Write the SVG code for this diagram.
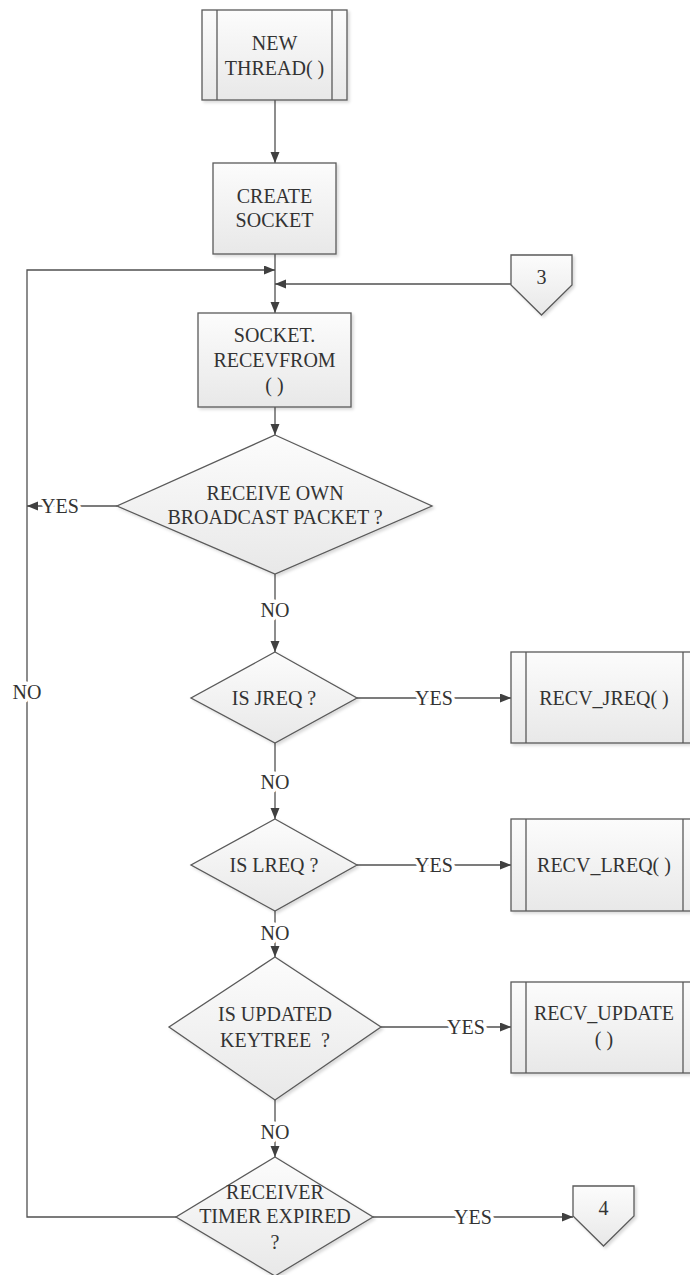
<svg xmlns="http://www.w3.org/2000/svg" width="690" height="1275" viewBox="0 0 690 1275">
  <defs>
    <linearGradient id="fillGrad" x1="0" y1="0" x2="0" y2="1">
      <stop offset="0" stop-color="#fcfcfc"/>
      <stop offset="1" stop-color="#e8e8e8"/>
    </linearGradient>
    <filter id="shade" x="-10%" y="-10%" width="125%" height="125%">
      <feDropShadow dx="2" dy="2" stdDeviation="1.5" flood-color="#000" flood-opacity="0.15"/>
    </filter>
    <marker id="arrow" markerUnits="userSpaceOnUse" markerWidth="12" markerHeight="10" refX="11" refY="4.5" orient="auto">
      <path d="M0,0 L11,4.5 L0,9 z" fill="#404040"/>
    </marker>
  </defs>
  <style>
    .shape { fill: url(#fillGrad); stroke: #5a5a5a; stroke-width: 1.3; filter: url(#shade); }
    .inner { fill: none; stroke: #5a5a5a; stroke-width: 1.3; }
    .conn { fill: none; stroke: #505050; stroke-width: 1.3; }
    text { font-family: 'Liberation Serif', 'DejaVu Serif', serif; font-size: 20px; fill: #333; text-anchor: middle; }
    .lbl { stroke: #fff; stroke-width: 7; paint-order: stroke; stroke-linejoin: round; }
  </style>

  <rect width="690" height="1275" fill="#fff"/>

  <!-- connectors -->
  <g id="connectors" font-family="Liberation Serif, serif">
    <path class="conn" d="M275,100 V163" marker-end="url(#arrow)"/>
    <path class="conn" d="M275,254 V313" marker-end="url(#arrow)"/>
    <path class="conn" d="M275,407 V435" marker-end="url(#arrow)"/>
    <path class="conn" d="M275,574 V652" marker-end="url(#arrow)"/>
    <path class="conn" d="M275,743 V819" marker-end="url(#arrow)"/>
    <path class="conn" d="M275,911 V957" marker-end="url(#arrow)"/>
    <path class="conn" d="M275,1100 V1157" marker-end="url(#arrow)"/>
    <!-- loop back from broadcast check and timer check -->
    <path class="conn" d="M117,506 H27" marker-end="url(#arrow)"/>
    <path class="conn" d="M176,1217 H27 V270 H275" marker-end="url(#arrow)"/>
    <!-- from off-page connector 3 -->
    <path class="conn" d="M511,284 H275" marker-end="url(#arrow)"/>
    <!-- YES branches -->
    <path class="conn" d="M357,698 H511" marker-end="url(#arrow)"/>
    <path class="conn" d="M357,865 H511" marker-end="url(#arrow)"/>
    <path class="conn" d="M381,1027 H511" marker-end="url(#arrow)"/>
    <path class="conn" d="M373,1217 H573" marker-end="url(#arrow)"/>
    <!-- labels -->
    <text class="lbl" x="60" y="513">YES</text>
    <text class="lbl" x="27" y="699">NO</text>
    <text class="lbl" x="275" y="617">NO</text>
    <text class="lbl" x="275" y="789">NO</text>
    <text class="lbl" x="275" y="940">NO</text>
    <text class="lbl" x="275" y="1139">NO</text>
    <text class="lbl" x="434" y="705">YES</text>
    <text class="lbl" x="434" y="872">YES</text>
    <text class="lbl" x="466" y="1034">YES</text>
    <text class="lbl" x="473" y="1224">YES</text>
  </g>

  <!-- predefined process: NEW THREAD() -->
  <g id="new-thread">
    <rect class="shape" x="202" y="10" width="145" height="90"/>
    <line class="inner" x1="217" y1="10" x2="217" y2="100"/>
    <line class="inner" x1="332" y1="10" x2="332" y2="100"/>
    <text x="274.5" y="50">NEW</text>
    <text x="274.5" y="75">THREAD( )</text>
  </g>

  <g id="create-socket">
    <rect class="shape" x="213" y="163" width="123" height="91"/>
    <text x="274.5" y="203">CREATE</text>
    <text x="274.5" y="227">SOCKET</text>
  </g>

  <g id="connector-3">
    <path class="shape" d="M511,255 H572 V285 L541.5,315 L511,285 Z"/>
    <text x="541.5" y="284">3</text>
  </g>

  <g id="socket-recvfrom">
    <rect class="shape" x="198" y="313" width="153" height="94"/>
    <text x="274.5" y="342">SOCKET.</text>
    <text x="274.5" y="367">RECEVFROM</text>
    <text x="274.5" y="392">( )</text>
  </g>

  <g id="own-broadcast">
    <path class="shape" d="M275,435 L432,506 L275,574 L117,506 Z"/>
    <text x="275" y="500">RECEIVE OWN</text>
    <text x="275" y="524">BROADCAST PACKET ?</text>
  </g>

  <g id="is-jreq">
    <path class="shape" d="M275,652 L357,698 L275,743 L191,698 Z"/>
    <text x="274" y="705">IS JREQ ?</text>
  </g>

  <g id="recv-jreq">
    <rect class="shape" x="511" y="652" width="187" height="91"/>
    <line class="inner" x1="526" y1="652" x2="526" y2="743"/>
    <line class="inner" x1="683" y1="652" x2="683" y2="743"/>
    <text x="604" y="705">RECV_JREQ( )</text>
  </g>

  <g id="is-lreq">
    <path class="shape" d="M275,819 L357,865 L275,911 L191,865 Z"/>
    <text x="274" y="872">IS LREQ ?</text>
  </g>

  <g id="recv-lreq">
    <rect class="shape" x="511" y="819" width="187" height="92"/>
    <line class="inner" x1="526" y1="819" x2="526" y2="911"/>
    <line class="inner" x1="683" y1="819" x2="683" y2="911"/>
    <text x="604" y="872">RECV_LREQ( )</text>
  </g>

  <g id="is-updated">
    <path class="shape" d="M275,957 L381,1027 L275,1100 L169,1027 Z"/>
    <text x="275" y="1021">IS UPDATED</text>
    <text x="275" y="1047" xml:space="preserve">KEYTREE  ?</text>
  </g>

  <g id="recv-update">
    <rect class="shape" x="511" y="982" width="187" height="91"/>
    <line class="inner" x1="526" y1="982" x2="526" y2="1073"/>
    <line class="inner" x1="683" y1="982" x2="683" y2="1073"/>
    <text x="604" y="1020">RECV_UPDATE</text>
    <text x="604" y="1046">( )</text>
  </g>

  <g id="timer-expired">
    <path class="shape" d="M275,1157 L373,1217 L275,1276 L176,1217 Z"/>
    <text x="275" y="1199">RECEIVER</text>
    <text x="275" y="1223">TIMER EXPIRED</text>
    <text x="275" y="1249">?</text>
  </g>

  <g id="connector-4">
    <path class="shape" d="M573,1186 H634 V1216 L603.5,1246 L573,1216 Z"/>
    <text x="603.5" y="1215">4</text>
  </g>
</svg>
